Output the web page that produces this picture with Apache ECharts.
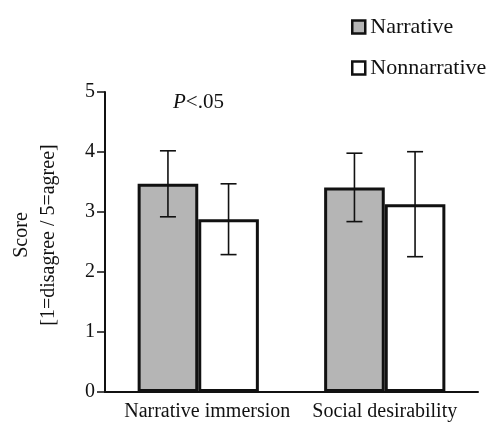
<!DOCTYPE html>
<html>
<head>
<meta charset="utf-8">
<script src="https://cdn.jsdelivr.net/npm/echarts@6/dist/echarts.min.js"></script>
<style>
html,body{margin:0;padding:0;background:#fff;}
#chart{width:495px;height:423px;}
</style>
</head>
<body>
<div id="chart"></div>
<script>
const categories = ['Narrative immersion', 'Social desirability'];
const seriesNames = ['Narrative', 'Nonnarrative'];
const narrativeMean = [3.47, 3.41];
const narrativeSD = [0.55, 0.57];
const nonnarrativeMean = [2.88, 3.13];
const nonnarrativeSD = [0.59, 0.875];
const yTicks = [0, 1, 2, 3, 4, 5];

const FONT = 'Liberation Serif';
const CAT_GAP = 0.35;

function errData(mean, sd) {
  return mean.map((m, i) => [i, m - sd[i], m + sd[i]]);
}

function makeErrRender(side) {
  return function (params, api) {
    const idx = api.value(0);
    const cx = api.coord([idx, 0])[0];
    const band = api.size([1, 0])[0];
    const barW = band * (1 - CAT_GAP) / 2;
    const x = cx + side * barW / 2;
    const yLo = api.coord([idx, api.value(1)])[1];
    const yHi = api.coord([idx, api.value(2)])[1];
    const cap = 8;
    const st = { stroke: '#111', lineWidth: 1.6 };
    return {
      type: 'group',
      children: [
        { type: 'line', shape: { x1: x, y1: yLo, x2: x, y2: yHi }, style: st },
        { type: 'line', shape: { x1: x - cap, y1: yHi, x2: x + cap, y2: yHi }, style: st },
        { type: 'line', shape: { x1: x - cap, y1: yLo, x2: x + cap, y2: yLo }, style: st }
      ]
    };
  };
}

const chart = echarts.init(document.getElementById('chart'), null, { renderer: 'canvas' });
chart.setOption({
  animation: false,
  backgroundColor: '#fff',
  grid: { left: 102, right: 17, top: 92, bottom: 31, containLabel: false },
  legend: {
    data: seriesNames,
    orient: 'vertical',
    left: 346,
    top: 11,
    itemWidth: 13,
    itemHeight: 13,
    itemGap: 19,
    itemTextGap: 11,
    icon: 'rect',
    itemStyle: { borderColor: '#111', borderWidth: 2.5 },
    textStyle: { fontFamily: FONT, fontSize: 22, color: '#111' }
  },
  xAxis: {
    type: 'category',
    data: [
      { value: categories[0], textStyle: { padding: [0, 0, 0, 18] } },
      { value: categories[1] }
    ],
    axisLine: { lineStyle: { color: '#111', width: 2 } },
    axisTick: { alignWithLabel: true, length: 6, lineStyle: { color: '#111', width: 2 } },
    axisLabel: { interval: 0, hideOverlap: false, fontFamily: FONT, fontSize: 20, color: '#111', margin: 10 },
    splitLine: { show: false }
  },
  yAxis: {
    type: 'value',
    min: 0,
    max: 5,
    interval: 1,
    name: 'Score\n[1=disagree / 5=agree]',
    nameLocation: 'middle',
    nameRotate: 90,
    nameGap: 43,
    nameTextStyle: { fontFamily: FONT, fontSize: 20, color: '#111', lineHeight: 27, padding: [0, 0, 0, 14] },
    axisLine: { show: true, lineStyle: { color: '#111', width: 2 } },
    axisTick: { show: true, length: 8, lineStyle: { color: '#111', width: 1.5 } },
    axisLabel: {
      fontFamily: FONT, fontSize: 20, color: '#111', margin: 10,
      formatter: v => (yTicks.indexOf(v) >= 0 ? String(v) : '')
    },
    splitLine: { show: false }
  },
  graphic: [
    {
      type: 'text',
      left: 173,
      top: 92,
      style: {
        text: '{i|P}<.05',
        fontFamily: FONT,
        fontSize: 21,
        fill: '#111',
        rich: { i: { fontStyle: 'italic', fontFamily: FONT, fontSize: 21, fill: '#111' } }
      }
    }
  ],
  series: [
    {
      name: seriesNames[0],
      type: 'bar',
      data: narrativeMean,
      barGap: '0%',
      barCategoryGap: (CAT_GAP * 100) + '%',
      itemStyle: { color: '#b5b5b5', borderColor: '#111', borderWidth: 3 }
    },
    {
      name: seriesNames[1],
      type: 'bar',
      data: nonnarrativeMean,
      barGap: '0%',
      barCategoryGap: (CAT_GAP * 100) + '%',
      itemStyle: { color: '#ffffff', borderColor: '#111', borderWidth: 3 }
    },
    {
      name: 'err1',
      type: 'custom',
      renderItem: makeErrRender(-1),
      data: errData(narrativeMean, narrativeSD),
      encode: { x: 0, y: [1, 2] },
      z: 5
    },
    {
      name: 'err2',
      type: 'custom',
      renderItem: makeErrRender(1),
      data: errData(nonnarrativeMean, nonnarrativeSD),
      encode: { x: 0, y: [1, 2] },
      z: 5
    }
  ]
});
</script>
</body>
</html>
